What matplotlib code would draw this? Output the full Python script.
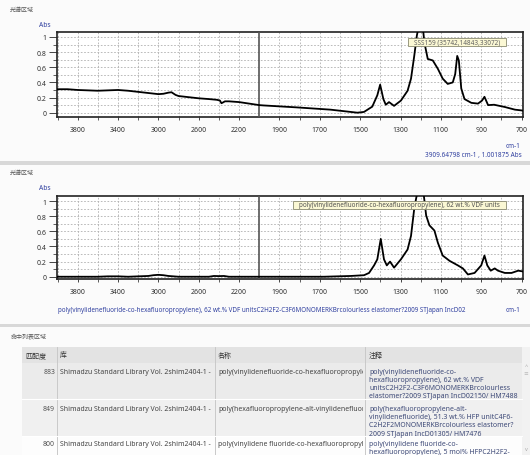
import numpy as np
import matplotlib
matplotlib.use("Agg")
import matplotlib.pyplot as plt
from matplotlib.patches import Rectangle
from matplotlib.ticker import FixedLocator, FixedFormatter

plt.rcParams['font.family'] = ['Noto Sans', 'Noto Sans CJK SC', 'DejaVu Sans']

# ---------------- data ----------------
wn_sample = [4000, 3900, 3800, 3700, 3600, 3500, 3400, 3300, 3200, 3100, 3000, 2950, 2900,
             2870, 2830, 2800, 2700, 2600, 2500, 2420, 2390, 2375, 2360, 2340, 2300, 2200,
             2100, 2000, 1980, 1814, 1647, 1514, 1481, 1440, 1415, 1401, 1385, 1373, 1357,
             1332, 1298, 1265, 1248, 1232, 1219, 1205, 1192, 1182, 1165, 1140, 1115, 1091,
             1066, 1041, 1029, 1019, 1011, 999, 983, 949, 916, 896, 884, 866, 836, 783,
             733, 700, 693]
abs_sample = [0.31, 0.31, 0.30, 0.295, 0.29, 0.295, 0.30, 0.29, 0.275, 0.26, 0.245, 0.25, 0.265,
              0.27, 0.235, 0.22, 0.205, 0.19, 0.18, 0.17, 0.16, 0.125, 0.135, 0.15, 0.15, 0.14,
              0.12, 0.10, 0.096, 0.07, 0.04, 0.0, 0.01, 0.08, 0.23, 0.37, 0.18, 0.105, 0.14,
              0.09, 0.16, 0.29, 0.45, 0.75, 1.02, 1.2, 1.2, 0.93, 0.71, 0.69, 0.58, 0.45,
              0.38, 0.40, 0.51, 0.75, 0.69, 0.32, 0.18, 0.13, 0.12, 0.16, 0.21, 0.10, 0.105, 0.075,
              0.04, 0.03, 0.025]

wn_ref = [4000, 3600, 3500, 3400, 3300, 3200, 3100, 3050, 3000, 2950, 2900, 2850, 2800,
          2500, 2450, 2400, 2350, 2300, 2000, 1680, 1547, 1481, 1456, 1431, 1415, 1398,
          1382, 1368, 1352, 1332, 1298, 1265, 1248, 1232, 1223, 1210, 1190, 1173, 1157,
          1132, 1115, 1091, 1057, 1016, 991, 966, 933, 900, 884, 870, 853, 833, 817,
          783, 750, 717, 693]
abs_ref = [0.0, 0.0, 0.005, 0.005, 0.0, 0.005, 0.01, 0.02, 0.025, 0.02, 0.01, 0.005, 0.0,
           0.0, 0.01, 0.008, 0.01, 0.0, 0.0, 0.0, 0.01, 0.02, 0.05, 0.15, 0.23, 0.50,
           0.23, 0.15, 0.20, 0.12, 0.23, 0.36, 0.54, 0.90, 1.03, 1.2, 1.2, 0.81, 0.68,
           0.61, 0.45, 0.28, 0.21, 0.15, 0.11, 0.03, 0.05, 0.15, 0.28, 0.15, 0.08, 0.11, 0.08,
           0.05, 0.05, 0.08, 0.07]

x_major = [3800, 3400, 3000, 2600, 2200, 1900, 1700, 1500, 1300, 1100, 900, 700]
x_minor = [4000, 3600, 3200, 2800, 2400, 1800, 1600, 1400, 1200, 1000, 800]
y_major = [0, 0.2, 0.4, 0.6, 0.8, 1.0]
y_major_labels = ['0', '0.2', '0.4', '0.6', '0.8', '1']
y_minor = [0.1, 0.3, 0.5, 0.7, 0.9]

sample_label = "SSS159 (35742,14843,33072)"
ref_label = "poly(vinylidenefluoride-co-hexafluoropropylene), 62 wt.% VDF units"
ref_desc = ("poly(vinylidenefluoride-co-hexafluoropropylene), 62 wt.% VDF unitsC2H2F2-C3F6"
            "MONOMERKBrcolourless elastomer?2009 STJapan IncD02")
cursor_info = "3909.64798 cm-1 , 1.001875 Abs"

table_headers = ["匹配度", "库", "名称", "注释"]
hit_scores = ["883", "849", "800"]
hit_libs = ["Shimadzu Standard Library Vol. 2shim2404-1 -"] * 3
hit_names = ["poly(vinylidenefluoride-co-hexafluoropropylene)",
             "poly(hexafluoropropylene-alt-vinylidenefluoride)",
             "poly(vinylidene fluoride-co-hexafluoropropylene)"]
hit_notes = [["poly(vinylidenefluoride-co-", "hexafluoropropylene), 62 wt.% VDF",
              "unitsC2H2F2-C3F6MONOMERKBrcolourless", "elastomer?2009 STJapan IncD02150/ HM7488"],
             ["poly(hexafluoropropylene-alt-", "vinylidenefluoride), 51.3 wt.% HFP unitC4F6-",
              "C2H2F2MONOMERKBrcolourless elastomer?", "2009 STJapan IncD01305/ HM7476"],
             ["poly(vinylidene fluoride-co-", "hexafluoropropylene), 5 mol% HFPC2H2F2-"]]

# ---------------- figure ----------------
W, H = 530, 456
fig = plt.figure(figsize=(W / 100, H / 100), dpi=100)
fig.patch.set_facecolor('#fbfbfb')

BLUE = '#2f3f9f'


def fx(x):
    return x / W


def fy(y):
    return 1 - y / H


def T(x, y, s, **kw):
    kw.setdefault('va', 'center')
    kw.setdefault('fontsize', 5)
    return fig.text(fx(x), fy(y), s, **kw)


def R(x0, y0, x1, y1, **kw):
    r = Rectangle((fx(x0), fy(y1)), fx(x1) - fx(x0), fy(y0) - fy(y1),
                  transform=fig.transFigure, **kw)
    fig.add_artist(r)
    return r


def fwd(x):
    x = np.asarray(x, dtype=float)
    return np.where(x > 2000, 2000 + (x - 2000) / 2.0, x)


def inv(y):
    y = np.asarray(y, dtype=float)
    return np.where(y > 2000, 2000 + (y - 2000) * 2.0, y)


# panel separators
R(0, 162, W, 166, facecolor='#d8d8d8', edgecolor='none')
R(0, 325, W, 328, facecolor='#d8d8d8', edgecolor='none')


def make_axes(top, bottom, ylim, wn, ab):
    ax = fig.add_axes([fx(57), fy(bottom), fx(523) - fx(57), fy(top) - fy(bottom)])
    ax.set_facecolor('white')
    ax.set_xscale('function', functions=(fwd, inv))
    ax.set_xlim(4005, 693)
    ax.set_ylim(*ylim)
    ax.xaxis.set_major_locator(FixedLocator(x_major))
    ax.xaxis.set_major_formatter(FixedFormatter([str(v) for v in x_major]))
    ax.xaxis.set_minor_locator(FixedLocator(x_minor))
    ax.yaxis.set_major_locator(FixedLocator(y_major))
    ax.yaxis.set_major_formatter(FixedFormatter(y_major_labels))
    ax.yaxis.set_minor_locator(FixedLocator(y_minor))
    ax.tick_params(axis='both', which='major', labelsize=5, color='#444444', width=0.7,
                   labelcolor='#333333', direction='out')
    ax.tick_params(axis='y', which='major', length=6, pad=1.5)
    ax.tick_params(axis='y', which='minor', length=3, width=0.6, color='#444444')
    ax.tick_params(axis='x', which='major', length=2.5, pad=4)
    ax.tick_params(axis='x', which='minor', length=2, width=0.6, color='#444444')
    ax.grid(True, which='both', color='#b0b0b0', linestyle=(0, (2, 2)), linewidth=0.6)
    for s in ax.spines.values():
        s.set_color('#222222')
        s.set_linewidth(1.2)
    ax.axvline(2000, color='#555555', lw=1.2, zorder=3)
    ax.plot(wn, ab, color='black', lw=1.3, zorder=4)
    return ax


ax1 = make_axes(33, 118, (-0.057, 1.066), wn_sample, abs_sample)
ax2 = make_axes(197, 280, (-0.03, 1.067), wn_ref, abs_ref)

# labels panel 1
T(10, 10, "光谱区域", color='#555555', fontsize=4.3)
T(39, 25.7, "Abs", color=BLUE, fontsize=4.8, fontweight='bold')
R(408, 38.5, 506, 46.5, facecolor='#fbf8d4', edgecolor='#8a8a70', lw=0.6, zorder=10)
T(457, 42.5, sample_label, color='#606060', fontsize=4.6, ha='center', zorder=11)
T(520, 146, "cm-1", color=BLUE, fontsize=4.6, ha='right')
T(522, 156, cursor_info, color=BLUE, fontsize=4.6, ha='right')

# labels panel 2
T(10, 173, "光谱区域", color='#555555', fontsize=4.3)
T(39, 189, "Abs", color=BLUE, fontsize=4.8, fontweight='bold')
R(293, 202, 506, 209.5, facecolor='#fbf8d4', edgecolor='#8a8a70', lw=0.6, zorder=10)
T(399.5, 205.8, ref_label, color='#505050', fontsize=4.6, ha='center', zorder=11)
T(58, 310.5, ref_desc, color=BLUE, fontsize=4.5, ha='left')
T(521, 310, "cm-1", color=BLUE, fontsize=4.6, ha='right')

# ---------------- table ----------------
T(11, 336, "命中列表区域", color='#555555', fontsize=4.3)
col_x = [22, 57, 215, 365, 522]
R(22, 348, 522, 364, facecolor='#e3e3e3', edgecolor='none')
row_y = [(364, 400), (400, 437), (437, 456)]
row_col = ['#ebebeb', '#f0f0f0', '#fdfdfd']
for (y0, y1), c in zip(row_y, row_col):
    R(22, y0, 522, y1, facecolor=c, edgecolor='none')
for x in col_x[1:4]:
    fig.add_artist(plt.Line2D([fx(x), fx(x)], [fy(348), fy(456)], transform=fig.transFigure,
                              color='#c9c9c9', lw=0.7))
for (y0, y1) in row_y[:2]:
    fig.add_artist(plt.Line2D([fx(22), fx(522)], [fy(y1), fy(y1)], transform=fig.transFigure,
                              color='#ffffff', lw=0.8))
# scrollbar
R(522, 348, 530, 456, facecolor='#f2f2f2', edgecolor='none')
T(526, 367, "^", color='#aaaaaa', fontsize=4, ha='center')
T(526, 373, "≡", color='#bbbbbb', fontsize=3.5, ha='center')
T(526, 450, "v", color='#aaaaaa', fontsize=4, ha='center')

hx = [25, 60, 218, 369]
for x, h in zip(hx, table_headers):
    T(x, 356.5, h, color='#333333', fontsize=5)

first_line = [372.3, 409.5, 444.5]
line_steps = [8.2, 8.2, 7.6]
for i in range(3):
    y = first_line[i]
    T(55, y, hit_scores[i], color='#555555', fontsize=5, ha='right')
    T(60, y, hit_libs[i], color='#444444', fontsize=5)
    t = T(218, y, hit_names[i], color='#444444', fontsize=5)
    clip = Rectangle((fx(215), fy(456)), fx(363) - fx(215), fy(348) - fy(456),
                     transform=fig.transFigure, visible=False)
    fig.add_artist(clip)
    t.set_clip_path(clip)
    for j, line in enumerate(hit_notes[i]):
        T(369, y + j * line_steps[i], line, color='#3e4a78', fontsize=5)

fig.savefig("out.png", dpi=100, facecolor=fig.get_facecolor())
